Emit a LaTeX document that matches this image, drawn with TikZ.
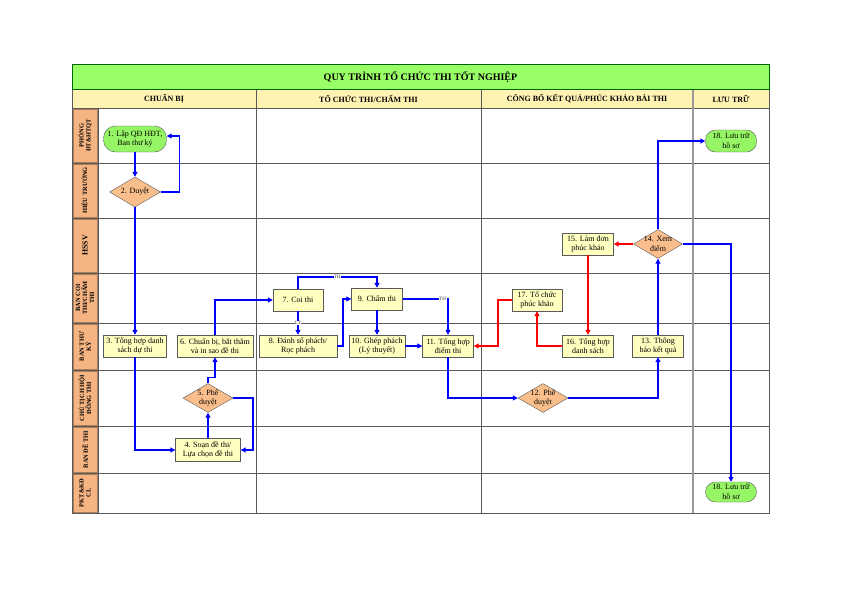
\documentclass[tikz,border=0pt]{standalone}
\usepackage{fontspec}
\setmainfont{Liberation Serif}
\usetikzlibrary{arrows.meta,shapes.geometric}
\definecolor{titleg}{RGB}{153,255,102}
\definecolor{hdrfill}{RGB}{255,243,180}
\definecolor{lanefill}{RGB}{245,180,130}
\definecolor{boxfill}{RGB}{255,255,192}
\definecolor{diafill}{RGB}{250,190,140}
\definecolor{termg}{RGB}{150,245,100}
\definecolor{gridc}{RGB}{90,90,90}
\newcommand{\bxfont}{\fontsize{8}{9.5}\selectfont}
\newcommand{\lanefont}{\fontsize{6.4}{7}\selectfont\bfseries}
\newcommand{\hdrfont}{\fontsize{8}{9}\selectfont\bfseries}
\tikzset{
  box/.style={draw=gridc, fill=boxfill, align=center, inner sep=0pt, minimum height=22, font=\bxfont},
  term/.style={draw=gridc, fill=termg, align=center, inner sep=0pt, minimum height=22, rounded corners=10, font=\bxfont},
  dia/.style={diamond, draw=gridc, fill=diafill, minimum width=50, minimum height=29, inner sep=0pt},
  dtext/.style={font=\bxfont, align=center},
  bl/.style={draw=blue, line width=1.5pt, -{Triangle[length=5pt,width=5pt]}},
  rd/.style={draw=red, line width=1.5pt, -{Triangle[length=5pt,width=5pt]}},
  lbl/.style={font=\fontsize{5}{5.5}\selectfont, fill=white, inner sep=0.6pt, text=black!80},
  lanebox/.style={fill=lanefill, draw=lanefill!70!black, line width=0.3pt},
  lanetxt/.style={rotate=90, align=center, font=\lanefont},
  gridl/.style={draw=gridc, line width=0.6pt}
}
\begin{document}
\begin{tikzpicture}[x=1pt,y=-1pt]
\useasboundingbox (0,0) rectangle (842,595);
\fill[white] (0,0) rectangle (842,595);
% title
\fill[titleg] (72,64) rectangle (769,89);
\node[font=\fontsize{10}{11}\selectfont\bfseries] (title) at (420.5,77) {QUY TRÌNH TỔ CHỨC THI TỐT NGHIỆP};
% header
\fill[hdrfill] (72,89) rectangle (769,108);
\node[font=\hdrfont] (h1) at (164,98.5) {CHUẨN BỊ};
\node[font=\hdrfont] (h2) at (368.5,98.5) {TỔ CHỨC THI/CHẤM THI};
\node[font=\hdrfont] (h3) at (587,98.5) {CÔNG BỐ KẾT QUẢ/PHÚC KHẢO BÀI THI};
\node[font=\hdrfont] (h4) at (731,98.5) {LƯU TRỮ};
% lane label boxes
\foreach \a/\b in {108/163,163/218,218/273,273/323,323/370,370/426,426/473,473/513}{
  \path[lanebox] (72.8,\a+0.8) rectangle (97.2,\b-0.8);
}
\node[lanetxt] (l1) at (85,135.5) {PHÒNG\\ĐT\&HTQT};
\node[lanetxt] (l2) at (85,190.5) {HIỆU TRƯỞNG};
\node[lanetxt, font=\fontsize{7.8}{8}\selectfont\bfseries] (l3) at (85,245.5) {HSSV};
\node[lanetxt] (l4) at (85,298) {BAN COI\\THI/CHẤM\\THI};
\node[lanetxt] (l5) at (85,346.5) {BAN THƯ\\KÝ};
\node[lanetxt] (l6) at (85,398) {CHỦ TỊCH HỘI\\ĐỒNG THI};
\node[lanetxt] (l7) at (85,449.5) {BAN ĐỀ THI};
\node[lanetxt] (l8) at (85,493) {PKT\&KĐ\\CL};
% grid
\foreach \y in {89,108,163,218,273,323,370,426,473}{
  \draw[gridl] (72,\y) -- (769,\y);
}
\draw[gridl] (98,108) -- (98,513);
\draw[gridl] (256,89) -- (256,513);
\draw[gridl] (481,89) -- (481,513);
\draw[draw=gray!80, line width=1.6pt] (693,89) -- (693,513);
\draw[gridl] (72,64) rectangle (769,513);
\draw[draw=green!40!black, line width=0.6pt] (72,64) rectangle (769,89);
% nodes
\node[term, minimum width=63, minimum height=26, rounded corners=12] (n1) at (135,139) {1. Lập QĐ HĐT,\\Ban thư ký};
\node[dia, minimum width=51, minimum height=30, label={[dtext]center:2. Duyệt}] (n2) at (135,192) {};
\node[box, minimum width=63] (n3) at (135,346) {3. Tổng hợp danh\\sách dự thi};
\node[box, minimum width=76] (n6) at (215,346) {6. Chuẩn bị, bắt thăm\\và in sao đề thi};
\node[dia, label={[dtext]center:5. Phê\\duyệt}] (n5) at (208,398) {};
\node[box, minimum width=65, minimum height=23] (n4) at (208,450) {4. Soạn đề thi/\\Lựa chọn đề thi};
\node[box, minimum width=50] (n7) at (298,300) {7. Coi thi};
\node[box, minimum width=51] (n9) at (377,299) {9. Chấm thi};
\node[box, minimum width=78] (n8) at (298,346) {8. Đánh số phách/\\Rọc phách};
\node[box, minimum width=56] (n10) at (377,346) {10. Ghép phách\\(Lý thuyết)};
\node[box, minimum width=51] (n11) at (448,346) {11. Tổng hợp\\điểm thi};
\node[box, minimum width=50] (n17) at (537,300) {17. Tổ chức\\phúc khảo};
\node[box, minimum width=51] (n16) at (588,346) {16. Tổng hợp\\danh sách};
\node[box, minimum width=51] (n15) at (588,244) {15. Làm đơn\\phúc khảo};
\node[dia, minimum width=49, label={[dtext]center:14. Xem\\điểm}] (n14) at (658,244) {};
\node[box, minimum width=51] (n13) at (658,346) {13. Thông\\báo kết quả};
\node[dia, label={[dtext]center:12. Phê\\duyệt}] (n12) at (543,398) {};
\node[term, minimum width=51] (n18a) at (731,141) {18. Lưu trữ\\hồ sơ};
\node[term, minimum width=51, minimum height=20] (n18b) at (731,492) {18. Lưu trữ\\hồ sơ};
% connectors
\draw[bl] (n1.south) -- (n2.north);
\draw[bl] (n2.east) -- ++(19,0) |- ([yshift=3pt]n1.east);
\draw[bl] (n2.south) -- (n3.north);
\draw[bl] (n3.south) |- (n4.west);
\draw[bl] (n4.north) -- (n5.south);
\draw[bl] (n5.east) -- ++(20,0) |- (n4.east);
\draw[bl] (n5.north) -- ++(0,-6) -| (n6.south);
\draw[bl] (n6.north) |- (n7.west);
\draw[bl] (n7.north) -- ++(0,-12) -| node[pos=0.25, lbl] {TH} (n9.north);
\draw[bl] (n7.south) -- node[lbl] {LT} (n8.north);
\draw[bl] (n8.east) -- ++(6,0) |- (n9.west);
\draw[bl] (n9.east) -| node[pos=0.44, lbl] {TH} (n11.north);
\draw[bl] (n9.south) -- (n10.north);
\draw[bl] (n10.east) -- (n11.west);
\draw[bl] (n11.south) |- (n12.west);
\draw[bl] (n12.east) -| (n13.south);
\draw[bl] (n13.north) -- (n14.south);
\draw[rd] (n14.west) -- (n15.east);
\draw[rd] (n15.south) -- (n16.north);
\draw[rd] (n16.west) -| (n17.south);
\draw[rd] (n17.west) -- ++(-14,0) |- (n11.east);
\draw[bl] (n14.north) |- (n18a.west);
\draw[bl] (n14.east) -| (n18b.north);
\end{tikzpicture}
\end{document}
